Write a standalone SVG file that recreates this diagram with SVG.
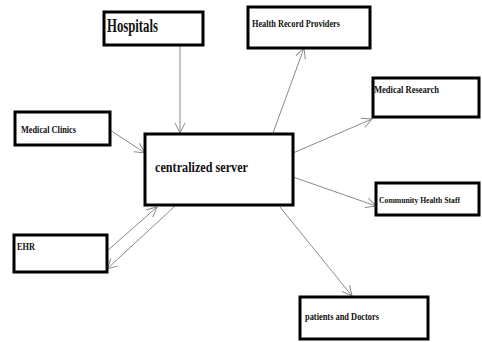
<svg xmlns="http://www.w3.org/2000/svg" width="482" height="342" viewBox="0 0 482 342">
<style>
.box{fill:#fff;stroke:#000;stroke-width:3}
.t{font-family:"Liberation Serif","Times New Roman",serif;font-weight:bold;fill:#111}
.c{stroke:#8a8a8a;stroke-width:1;fill:none;marker-end:url(#arr)}
</style>
<defs>
<marker id="arr" viewBox="0 0 12 12" refX="11" refY="6" markerWidth="12" markerHeight="12" markerUnits="userSpaceOnUse" orient="auto">
<path d="M1,1 L11,6 L1,11" fill="none" stroke="#8a8a8a" stroke-width="1"/>
</marker>
</defs>
<rect width="482" height="342" fill="#fff"/>
<g id="connectors">
<line class="c" x1="180" y1="46" x2="180" y2="133"/>
<line class="c" x1="110" y1="130" x2="145" y2="153"/>
<line class="c" x1="273" y1="133" x2="304" y2="48"/>
<line class="c" x1="293" y1="153" x2="372" y2="119"/>
<line class="c" x1="293" y1="177" x2="376" y2="206"/>
<line class="c" x1="280" y1="207" x2="352" y2="296"/>
<line class="c" x1="107" y1="251" x2="157" y2="207"/>
<line class="c" x1="175" y1="206" x2="107" y2="269"/>
</g>
<g id="hospitals">
<rect class="box" x="104" y="12" width="99" height="33"/>
<text class="t" x="107" y="32" font-size="18" textLength="51" lengthAdjust="spacingAndGlyphs">Hospitals</text>
</g>
<g id="health-record-providers">
<rect class="box" x="248" y="7" width="122" height="41"/>
<text class="t" x="252" y="27" font-size="10" textLength="88" lengthAdjust="spacingAndGlyphs">Health Record Providers</text>
</g>
<g id="medical-clinics">
<rect class="box" x="15" y="112" width="95" height="33"/>
<text class="t" x="21" y="133" font-size="10" textLength="55" lengthAdjust="spacingAndGlyphs">Medical Clinics</text>
</g>
<g id="centralized-server">
<rect class="box" x="145" y="134" width="148" height="71"/>
<text class="t" x="155" y="172" font-size="15" textLength="93" lengthAdjust="spacingAndGlyphs">centralized server</text>
</g>
<g id="medical-research">
<rect class="box" x="373" y="78" width="106" height="39"/>
<text class="t" x="374" y="93" font-size="10" textLength="65" lengthAdjust="spacingAndGlyphs">Medical Research</text>
</g>
<g id="community-health-staff">
<rect class="box" x="376" y="183" width="103" height="32"/>
<text class="t" x="379" y="203" font-size="8.5" textLength="81" lengthAdjust="spacingAndGlyphs">Community Health Staff</text>
</g>
<g id="ehr">
<rect class="box" x="14" y="235" width="93" height="37"/>
<text class="t" x="17" y="250" font-size="10" textLength="18" lengthAdjust="spacingAndGlyphs">EHR</text>
</g>
<g id="patients-and-doctors">
<rect class="box" x="300" y="297" width="128" height="42"/>
<text class="t" x="305" y="320" font-size="10" textLength="74" lengthAdjust="spacingAndGlyphs">patients and Doctors</text>
</g>
</svg>
